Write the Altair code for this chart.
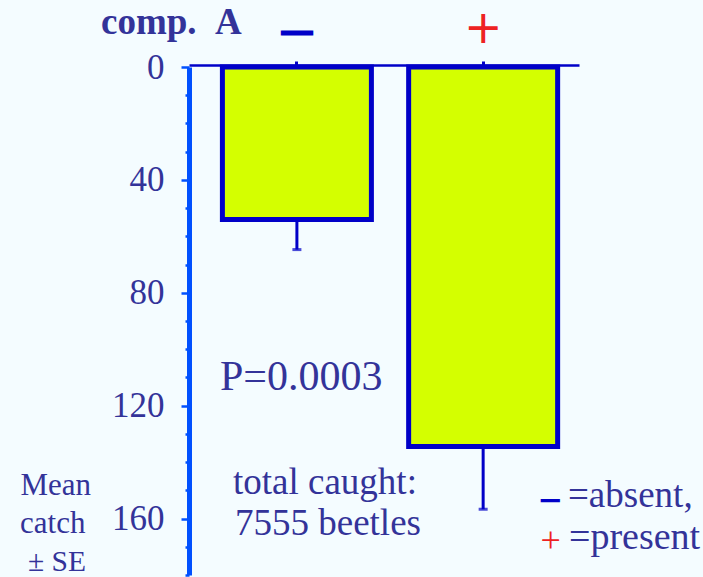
import altair as alt
import pandas as pd

# Mean catch per treatment (compound A absent / present) and its standard error
conditions = ["absent", "present"]
symbols = ["—", "+"]
mean_catch = [54.0, 134.5]
se_catch = [10.7, 22.2]

y_ticks = list(range(0, 181, 10))

BG = "#F4FCFF"
INK = "#333399"
NAVY = "#0000C8"
AXIS_BLUE = "#0050FF"
RED = "#EE2222"
FILL = "#D4FF00"
SERIF = "Liberation Serif"

df = pd.DataFrame({
    "condition": conditions,
    "symbol": symbols,
    "mean": mean_catch,
    "se": se_catch,
})

x_scale = alt.Scale(domain=conditions, paddingInner=0.2, paddingOuter=0.147, align=0.61)
y_scale = alt.Scale(domain=[0, 180], reverse=True, nice=False, zero=True)

x_axis = alt.Axis(
    orient="top", title=None, labels=False, offset=2,
    domainColor=NAVY, domainWidth=2.5,
    tickColor=NAVY, tickSize=4, tickWidth=3,
)
y_axis = alt.Axis(
    title=None, values=y_ticks, grid=False,
    labelExpr="datum.value % 40 === 0 ? datum.label : ''",
    labelFont=SERIF, labelFontSize=35, labelColor=INK,
    labelPadding=17, labelBaseline="middle",
    domainColor=AXIS_BLUE, domainWidth=5,
    tickColor=AXIS_BLUE, tickWidth=2.5,
    tickSize={"condition": {"test": "datum.value % 40 === 0", "value": 8}, "value": 4},
)

X = alt.X("condition:N", scale=x_scale, axis=x_axis)

base = alt.Chart(df).transform_calculate(upper="datum.mean + datum.se")

bars = base.mark_bar(fill=FILL, stroke=NAVY, strokeWidth=5).encode(
    x=X,
    y=alt.Y("mean:Q", scale=y_scale, axis=y_axis),
)

err = base.mark_rule(color=NAVY, strokeWidth=3).encode(
    x=X,
    y=alt.Y("mean:Q", scale=y_scale, axis=y_axis),
    y2="upper:Q",
)

caps = base.mark_tick(color=NAVY, size=9, thickness=3).encode(
    x=X,
    y=alt.Y("upper:Q", scale=y_scale, axis=y_axis),
)

# Treatment symbols above each bar
minus_sym = base.transform_filter(alt.datum.condition == "absent").mark_text(
    font=SERIF, fontSize=29, fontWeight="bold", color=NAVY,
    stroke=NAVY, strokeWidth=3, baseline="alphabetic",
).encode(x=X, y=alt.value(-27), text="symbol:N")

plus_sym = base.transform_filter(alt.datum.condition == "present").mark_text(
    font="DejaVu Sans", fontSize=46, color=RED, baseline="alphabetic",
).encode(x=X, y=alt.value(-24), text="symbol:N")

one_row = pd.DataFrame({"_": [0]})


def label(text, x, y, size, color=INK, weight="normal", stroke=None):
    kw = dict(text=text, font=SERIF, fontSize=size, color=color, fontWeight=weight,
              align="left", baseline="alphabetic")
    if stroke is not None:
        kw.update(stroke=color, strokeWidth=stroke)
    return alt.Chart(one_row).mark_text(**kw).encode(x=alt.value(x), y=alt.value(y))


notes = [
    label("comp.\u00a0\u00a0A", -88, -33, 37, weight="bold"),
    label("P=0.0003", 31, 323, 42),
    label("total caught:", 44, 427, 37),
    label("7555 beetles", 46, 468, 37),
    label("Mean", -168.5, 428, 31),
    label("catch", -169, 466, 31),
    label("± SE", -161, 503.5, 29.5),
    label("—", 352.7, 437.5, 17, color=NAVY, weight="bold", stroke=2),
    label("=absent,", 379, 440, 37),
    label("+", 351.5, 484.5, 36, color=RED),
    label("=present", 380, 482, 38),
]

chart = alt.layer(bars, err, caps, minus_sym, plus_sym, *notes).properties(
    width=390,
    height=508,
    padding={"left": 189, "top": 67, "right": 124, "bottom": 2},
    autosize=alt.AutoSizeParams(type="none"),
    background=BG,
).configure_view(stroke=None)

chart.save("out.html", embed_options={"renderer": "svg", "actions": False})
